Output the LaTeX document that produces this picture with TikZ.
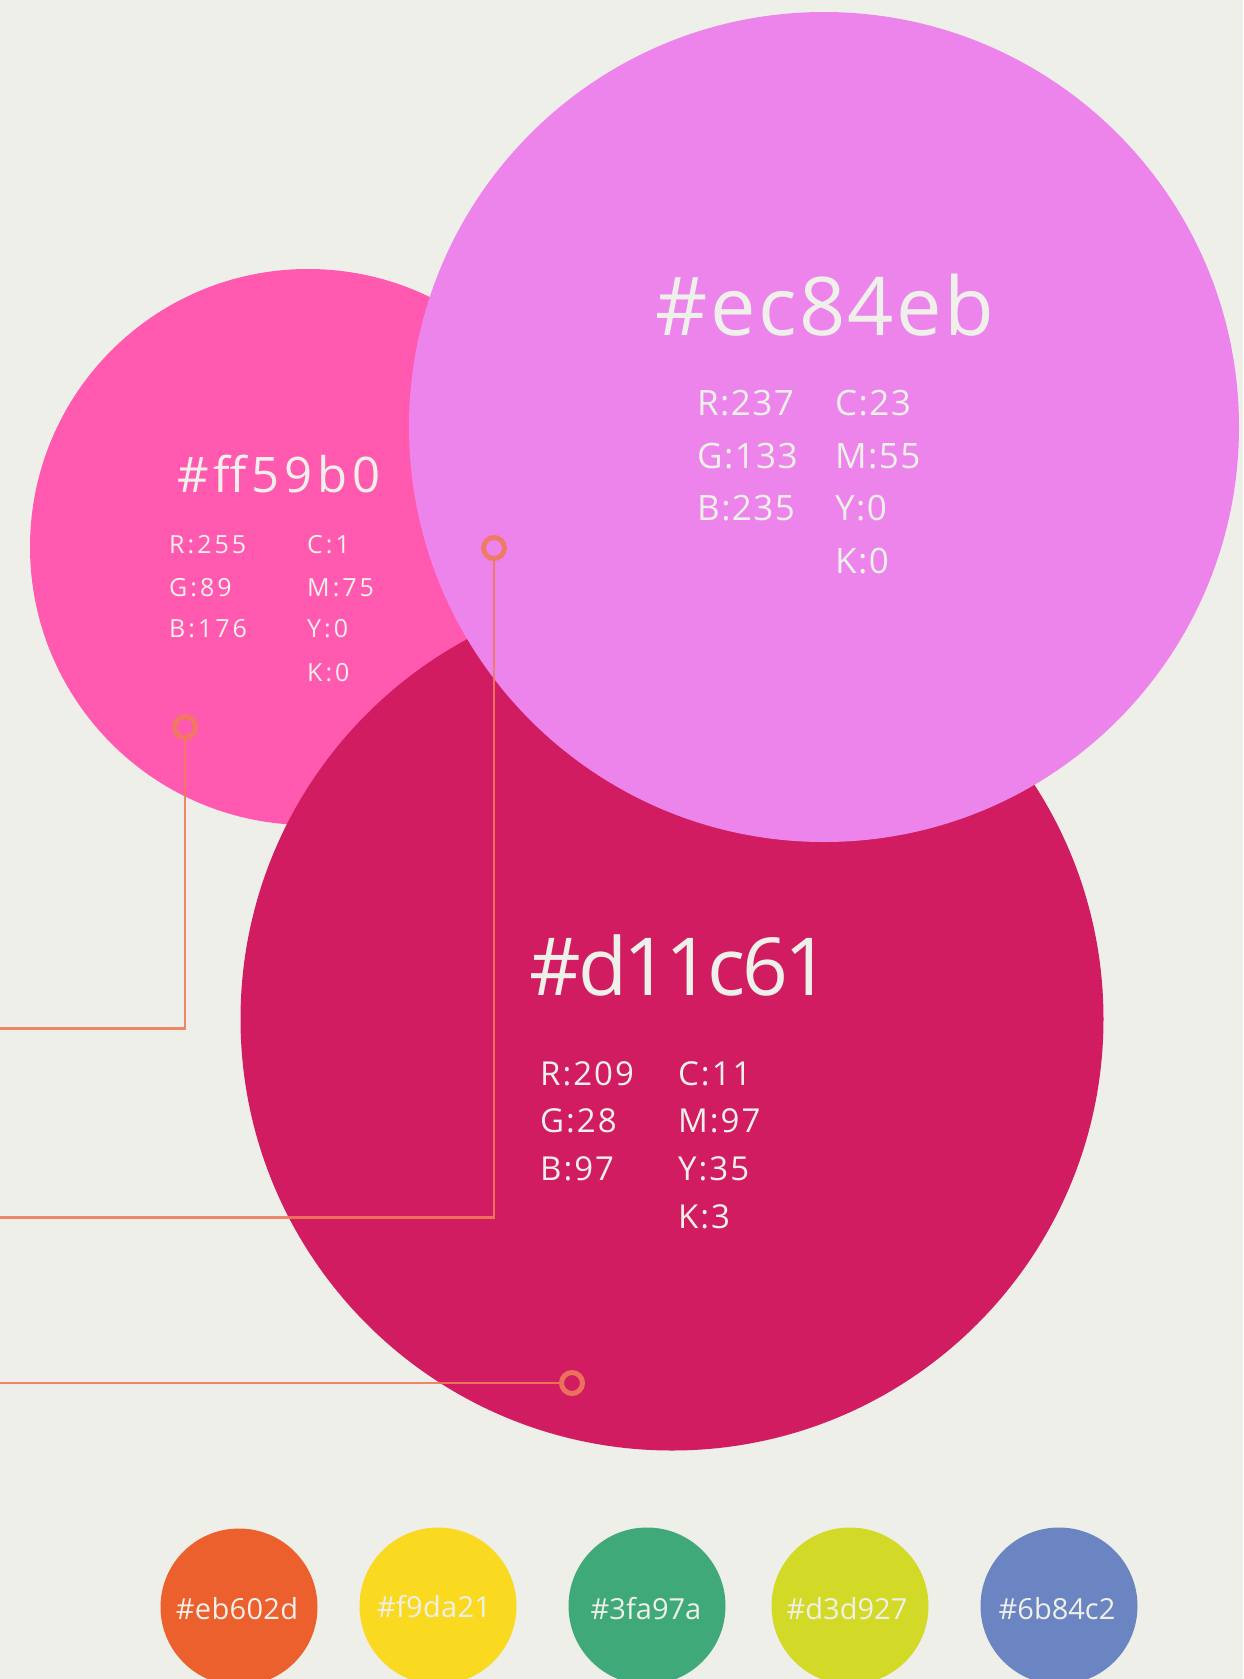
\documentclass[tikz,border=0pt]{standalone}
\usepackage{fontspec}
\setmainfont{Open Sans}

\definecolor{paper}{HTML}{EFEFEA}
\definecolor{ink}{HTML}{F0F0EA}
\definecolor{rose}{HTML}{FF59B0}
\definecolor{crimson}{HTML}{D11C61}
\definecolor{orchid}{HTML}{EC84EB}
\definecolor{lead}{HTML}{EF7B5A}
\definecolor{tangerine}{HTML}{EB602D}
\definecolor{sun}{HTML}{F9DA21}
\definecolor{jade}{HTML}{3FA97A}
\definecolor{lime}{HTML}{D3D927}
\definecolor{periwinkle}{HTML}{6B84C2}

% size, tracking, text
\newcommand\typeset[3]{\fontsize{#1}{#1}\selectfont\addfontfeatures{LetterSpace=#2}#3}

\tikzset{
  disc/.style={circle, draw=none, inner sep=0pt, minimum size=#1},
  hexlabel/.style={text=ink, inner sep=0pt, anchor=base},
  valuelabel/.style={text=ink, inner sep=0pt, anchor=base west},
  pin/.style={circle, draw=lead, line width=5pt, draw opacity=0.9, inner sep=0pt, minimum size=21pt},
  leader/.style={draw=lead, line width=2.6pt, draw opacity=0.9},
}

\begin{document}
\begin{tikzpicture}[x=1pt, y=-1pt]
  \useasboundingbox (0,0) rectangle (1243,1679);
  \fill[paper] (0,0) rectangle (1243,1679);
  \clip (0,0) rectangle (1243,1679);

  % main colour discs
  \node[disc=556pt, fill=rose]    (rosedisc)    at (308,547)  {};
  \node[disc=863pt, fill=crimson] (crimsondisc) at (672,1019) {};
  \node[disc=830pt, fill=orchid]  (orchiddisc)  at (824,427)  {};

  % leader lines with ring markers
  \node[pin] (pinA) at (185,727)  {};
  \node[pin] (pinB) at (494,548)  {};
  \node[pin] (pinC) at (572,1383) {};
  \coordinate (endA) at (0,1028.5);
  \coordinate (endB) at (0,1217.5);
  \coordinate (endC) at (0,1383);
  \draw[leader] (pinA.south) |- (endA);
  \draw[leader] (pinB.south) |- (endB);
  \draw[leader] (pinC.west) -- (endC);

  % #ff59b0
  \node[hexlabel] (roseHex) at (279,492) {\typeset{49}{10}{\#ff59b0}};
  \node[valuelabel] (roseR) at (169,553) {\typeset{25}{12}{R:255}};
  \node[valuelabel] (roseG) at (169,596) {\typeset{25}{12}{G:89}};
  \node[valuelabel] (roseB) at (169,637) {\typeset{25}{12}{B:176}};
  \node[valuelabel] (roseC) at (307,553) {\typeset{25}{12}{C:1}};
  \node[valuelabel] (roseM) at (307,596) {\typeset{25}{12}{M:75}};
  \node[valuelabel] (roseY) at (307,637) {\typeset{25}{12}{Y:0}};
  \node[valuelabel] (roseK) at (307,681) {\typeset{25}{12}{K:0}};

  % #ec84eb
  \node[hexlabel] (orchidHex) at (825,335) {\typeset{81}{3}{\#ec84eb}};
  \node[valuelabel] (orchidR) at (697,415) {\typeset{35}{4}{R:237}};
  \node[valuelabel] (orchidG) at (697,468) {\typeset{35}{4}{G:133}};
  \node[valuelabel] (orchidB) at (697,520) {\typeset{35}{4}{B:235}};
  \node[valuelabel] (orchidC) at (835,415) {\typeset{35}{4}{C:23}};
  \node[valuelabel] (orchidM) at (835,468) {\typeset{35}{4}{M:55}};
  \node[valuelabel] (orchidY) at (835,520) {\typeset{35}{4}{Y:0}};
  \node[valuelabel] (orchidK) at (835,573) {\typeset{35}{4}{K:0}};

  % #d11c61
  \node[hexlabel] (crimsonHex) at (680,995) {\typeset{80}{-4.5}{\#d11c61}};
  \node[valuelabel] (crimsonR) at (540,1085) {\typeset{33}{6}{R:209}};
  \node[valuelabel] (crimsonG) at (540,1132) {\typeset{33}{6}{G:28}};
  \node[valuelabel] (crimsonB) at (540,1180) {\typeset{33}{6}{B:97}};
  \node[valuelabel] (crimsonC) at (678,1085) {\typeset{33}{6}{C:11}};
  \node[valuelabel] (crimsonM) at (678,1132) {\typeset{33}{6}{M:97}};
  \node[valuelabel] (crimsonY) at (678,1180) {\typeset{33}{6}{Y:35}};
  \node[valuelabel] (crimsonK) at (678,1228) {\typeset{33}{6}{K:3}};

  % accent swatches along the bottom
  \node[disc=157pt, fill=tangerine]  (swA) at (239,1607)  {};
  \node[disc=157pt, fill=sun]        (swB) at (438,1606)  {};
  \node[disc=157pt, fill=jade]       (swC) at (647,1606)  {};
  \node[disc=157pt, fill=lime]       (swD) at (850,1606)  {};
  \node[disc=157pt, fill=periwinkle] (swE) at (1059,1606) {};
  \node[hexlabel] (swAlabel) at (237,1619)  {\typeset{29}{1}{\#eb602d}};
  \node[hexlabel] (swBlabel) at (434,1617)  {\typeset{29}{1}{\#f9da21}};
  \node[hexlabel] (swClabel) at (646,1619)  {\typeset{29}{0}{\#3fa97a}};
  \node[hexlabel] (swDlabel) at (847,1619)  {\typeset{29}{0}{\#d3d927}};
  \node[hexlabel] (swElabel) at (1057,1619) {\typeset{29}{0}{\#6b84c2}};
\end{tikzpicture}
\end{document}
